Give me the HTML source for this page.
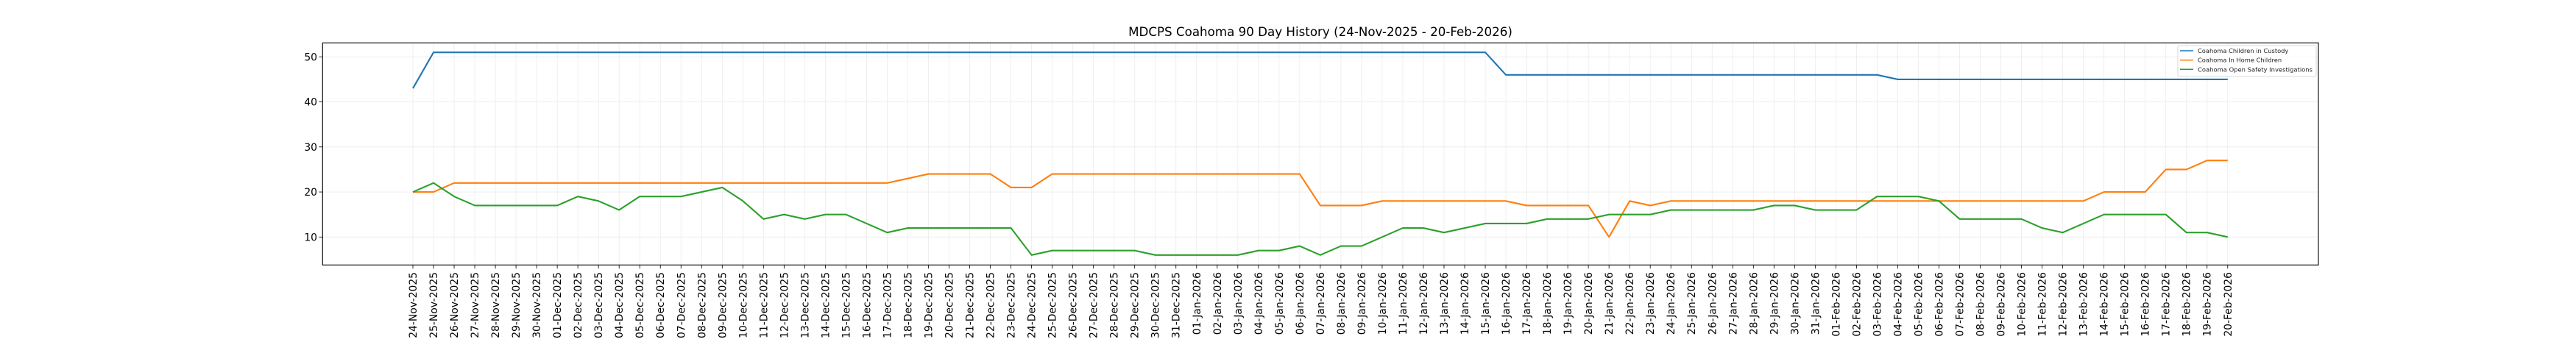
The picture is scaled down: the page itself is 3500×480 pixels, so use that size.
<!DOCTYPE html>
<html><head><meta charset="utf-8"><style>
html,body{margin:0;padding:0;background:#fff;}
svg{display:block;font-family:"DejaVu Sans","Liberation Sans",sans-serif;}
</style></head><body>
<svg id="s" width="3500" height="480" xmlns="http://www.w3.org/2000/svg">
<rect width="3500" height="480" fill="#fff"/>
<g id="grid"></g>
<g id="lines"></g>
<rect x="438.3" y="58.3" width="2711.7" height="302" fill="none" stroke="#000" stroke-width="1.1"/>
<text x="1794" y="49" font-size="16.7" text-anchor="middle">MDCPS Coahoma 90 Day History (24-Nov-2025 - 20-Feb-2026)</text>
<g font-size="13.9" text-anchor="end">
<text x="431" y="82.3">50</text>
<text x="431" y="143.5">40</text>
<text x="431" y="204.8">30</text>
<text x="431" y="266">20</text>
<text x="431" y="327.3">10</text>
</g>
<g id="xl" font-size="13.9" text-anchor="end">
<text>24-Nov-2025</text><text>25-Nov-2025</text><text>26-Nov-2025</text><text>27-Nov-2025</text><text>28-Nov-2025</text><text>29-Nov-2025</text><text>30-Nov-2025</text>
<text>01-Dec-2025</text><text>02-Dec-2025</text><text>03-Dec-2025</text><text>04-Dec-2025</text><text>05-Dec-2025</text><text>06-Dec-2025</text><text>07-Dec-2025</text><text>08-Dec-2025</text><text>09-Dec-2025</text><text>10-Dec-2025</text><text>11-Dec-2025</text><text>12-Dec-2025</text><text>13-Dec-2025</text><text>14-Dec-2025</text><text>15-Dec-2025</text><text>16-Dec-2025</text><text>17-Dec-2025</text><text>18-Dec-2025</text><text>19-Dec-2025</text><text>20-Dec-2025</text><text>21-Dec-2025</text><text>22-Dec-2025</text><text>23-Dec-2025</text><text>24-Dec-2025</text><text>25-Dec-2025</text><text>26-Dec-2025</text><text>27-Dec-2025</text><text>28-Dec-2025</text><text>29-Dec-2025</text><text>30-Dec-2025</text><text>31-Dec-2025</text>
<text>01-Jan-2026</text><text>02-Jan-2026</text><text>03-Jan-2026</text><text>04-Jan-2026</text><text>05-Jan-2026</text><text>06-Jan-2026</text><text>07-Jan-2026</text><text>08-Jan-2026</text><text>09-Jan-2026</text><text>10-Jan-2026</text><text>11-Jan-2026</text><text>12-Jan-2026</text><text>13-Jan-2026</text><text>14-Jan-2026</text><text>15-Jan-2026</text><text>16-Jan-2026</text><text>17-Jan-2026</text><text>18-Jan-2026</text><text>19-Jan-2026</text><text>20-Jan-2026</text><text>21-Jan-2026</text><text>22-Jan-2026</text><text>23-Jan-2026</text><text>24-Jan-2026</text><text>25-Jan-2026</text><text>26-Jan-2026</text><text>27-Jan-2026</text><text>28-Jan-2026</text><text>29-Jan-2026</text><text>30-Jan-2026</text><text>31-Jan-2026</text>
<text>01-Feb-2026</text><text>02-Feb-2026</text><text>03-Feb-2026</text><text>04-Feb-2026</text><text>05-Feb-2026</text><text>06-Feb-2026</text><text>07-Feb-2026</text><text>08-Feb-2026</text><text>09-Feb-2026</text><text>10-Feb-2026</text><text>11-Feb-2026</text><text>12-Feb-2026</text><text>13-Feb-2026</text><text>14-Feb-2026</text><text>15-Feb-2026</text><text>16-Feb-2026</text><text>17-Feb-2026</text><text>18-Feb-2026</text><text>19-Feb-2026</text><text>20-Feb-2026</text>
</g>
<g>
<rect x="2959" y="62" width="188" height="42" rx="2" fill="#fff" fill-opacity="0.8" stroke="#d0d0d0" stroke-width="0.8"/>
<line x1="2962" y1="69" x2="2980" y2="69" stroke="#1f77b4" stroke-width="1.5"/>
<line x1="2962" y1="81.7" x2="2980" y2="81.7" stroke="#ff7f0e" stroke-width="1.5"/>
<line x1="2962" y1="94.3" x2="2980" y2="94.3" stroke="#2ca02c" stroke-width="1.5"/>
<g font-size="8.3" fill="#222">
<text x="2986" y="72">Coahoma Children in Custody</text>
<text x="2986" y="84.7">Coahoma In Home Children</text>
<text x="2986" y="97.3" textLength="156" lengthAdjust="spacingAndGlyphs">Coahoma Open Safety Investigations</text>
</g>
</g>
</svg>
<script>
(function(){
var NS="http://www.w3.org/2000/svg";
function X(i){return 561+28.02*i;}
function Y(v){return 77.3+(50-v)*6.125;}
function fill(arr,spec){spec.forEach(function(s){for(var i=s[0];i<=s[1];i++)arr[i]=s[2];});return arr;}
var n=89;
var blue=fill([],[[0,0,43],[1,52,51],[53,71,46],[72,88,45]]);
var orange=fill([],[[0,1,20],[2,23,22],[24,24,23],[25,28,24],[29,30,21],[31,43,24],[44,46,17],[47,53,18],[54,57,17],[58,58,10],[59,59,18],[60,60,17],[61,81,18],[82,84,20],[85,86,25],[87,88,27]]);
var green=fill([],[[0,0,20],[1,1,22],[2,2,19],[3,7,17],[8,8,19],[9,9,18],[10,10,16],[11,13,19],[14,14,20],[15,15,21],[16,16,18],[17,17,14],[18,18,15],[19,19,14],[20,21,15],[22,22,13],[23,23,11],[24,29,12],[30,30,6],[31,35,7],[36,40,6],[41,42,7],[43,43,8],[44,44,6],[45,46,8],[47,47,10],[48,49,12],[50,50,11],[51,51,12],[52,54,13],[55,57,14],[58,60,15],[61,65,16],[66,67,17],[68,70,16],[71,73,19],[74,74,18],[75,78,14],[79,79,12],[80,80,11],[81,81,13],[82,85,15],[86,87,11],[88,88,10]]);
var g=document.getElementById("grid"),h="";
for(var i=0;i<n;i++){var x=X(i).toFixed(2);h+='<line x1="'+x+'" y1="58.3" x2="'+x+'" y2="360.3" stroke="#ebebeb" stroke-width="0.8"/>';
h+='<line x1="'+x+'" y1="360.3" x2="'+x+'" y2="365.2" stroke="#000" stroke-width="0.8"/>';}
[10,20,30,40,50].forEach(function(v){var y=Y(v).toFixed(2);h+='<line x1="438.3" y1="'+y+'" x2="3150" y2="'+y+'" stroke="#ebebeb" stroke-width="0.8"/>';
h+='<line x1="433.4" y1="'+y+'" x2="438.3" y2="'+y+'" stroke="#000" stroke-width="0.8"/>';});
g.innerHTML=h;
var l=document.getElementById("lines"),s="";
[[blue,"#1f77b4"],[orange,"#ff7f0e"],[green,"#2ca02c"]].forEach(function(p){
var pts=p[0].map(function(v,i){return X(i).toFixed(2)+","+Y(v).toFixed(2);}).join(" ");
s+='<polyline points="'+pts+'" fill="none" stroke="'+p[1]+'" stroke-width="2.1" stroke-linejoin="round"/>';});
l.innerHTML=s;
var t=document.getElementById("xl").getElementsByTagName("text");
for(var i=0;i<t.length;i++){t[i].setAttribute("transform","translate("+(X(i)+5).toFixed(2)+",370) rotate(-90)");}
})();
</script>
</body></html>
